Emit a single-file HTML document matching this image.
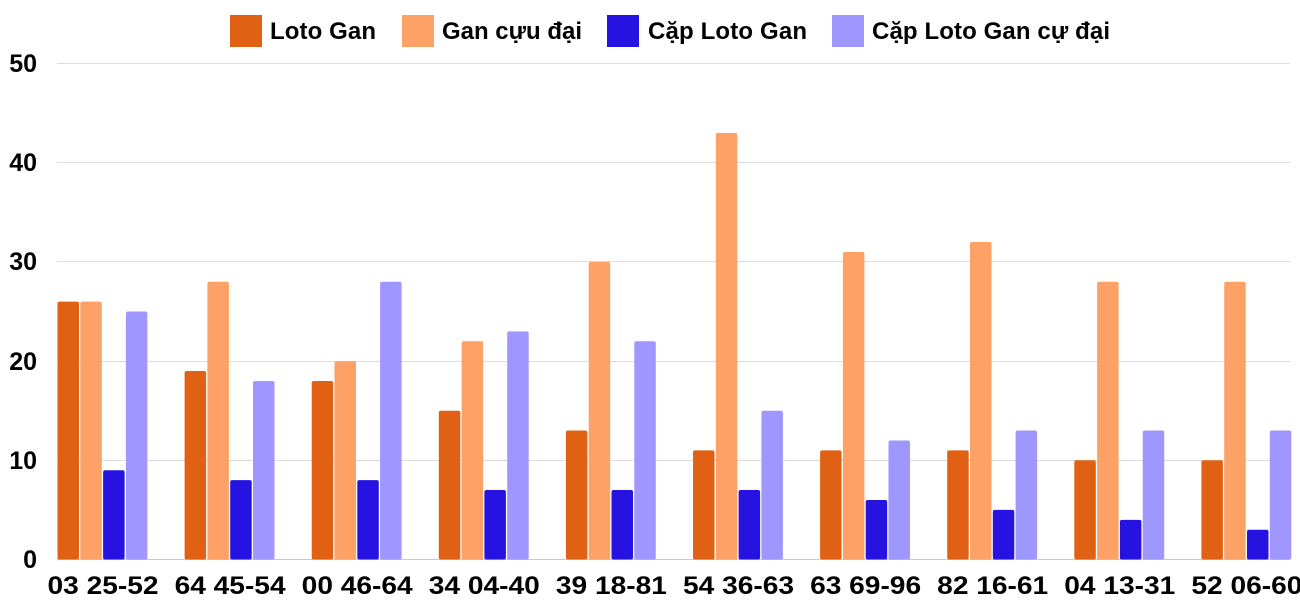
<!DOCTYPE html>
<html><head><meta charset="utf-8"><style>body{margin:0;background:#fff}svg{display:block}text{font-family:"Liberation Sans",sans-serif;font-weight:bold;fill:#000}</style></head>
<body>
<svg width="1300" height="600" xmlns="http://www.w3.org/2000/svg">
<g stroke="#dcdcdc" stroke-width="1">
<line x1="57" x2="1290" y1="63.5" y2="63.5"/><line x1="57" x2="1290" y1="162.5" y2="162.5"/><line x1="57" x2="1290" y1="261.5" y2="261.5"/><line x1="57" x2="1290" y1="361.5" y2="361.5"/><line x1="57" x2="1290" y1="460.5" y2="460.5"/>
</g>
<line x1="57" x2="1290" y1="559.5" y2="559.5" stroke="#c8c8c8"/>
<g font-size="25" text-anchor="end">
<text x="37" y="72">50</text><text x="37" y="171">40</text><text x="37" y="270">30</text><text x="37" y="370">20</text><text x="37" y="469">10</text><text x="37" y="568">0</text>
</g>
<g id="bars"></g>
<g font-size="25" text-anchor="middle" id="labels"></g>
<g font-size="24">
<rect x="230" y="15" width="32" height="32" fill="#e06114"/><text x="270" y="39" textLength="106">Loto Gan</text>
<rect x="402" y="15" width="32" height="32" fill="#fea167"/><text x="442" y="39" textLength="140">Gan cựu đại</text>
<rect x="607" y="15" width="32" height="32" fill="#2613e2"/><text x="648" y="39" textLength="159">Cặp Loto Gan</text>
<rect x="832" y="15" width="32" height="32" fill="#9f96fe"/><text x="872" y="39" textLength="238">Cặp Loto Gan cự đại</text>
</g>
<script>
var d=[[26,19,18,15,13,11,11,11,10,10],[26,28,20,22,30,43,31,32,28,28],[9,8,8,7,7,7,6,5,4,3],[25,18,28,23,22,15,12,13,13,13]];
var c=["#e06114","#fea167","#2613e2","#9f96fe"];
var L=["03 25-52","64 45-54","00 46-64","34 04-40","39 18-81","54 36-63","63 69-96","82 16-61","04 13-31","52 06-60"];
var ns="http://www.w3.org/2000/svg",b=document.getElementById("bars"),l=document.getElementById("labels");
for(var i=0;i<10;i++){var gx=57.5+i*127.1;
for(var s=0;s<4;s++){var h=d[s][i]*9.92;var r=document.createElementNS(ns,"rect");
r.setAttribute("x",gx+s*22.8);r.setAttribute("y",559.5-h);r.setAttribute("width",21.5);r.setAttribute("height",h);r.setAttribute("rx",2);r.setAttribute("fill",c[s]);b.appendChild(r);}
var t=document.createElementNS(ns,"text");t.setAttribute("x",gx+45.5);t.setAttribute("y",594);t.setAttribute("textLength",111);t.setAttribute("lengthAdjust","spacingAndGlyphs");t.textContent=L[i];l.appendChild(t);}
</script>
</svg>
</body></html>
